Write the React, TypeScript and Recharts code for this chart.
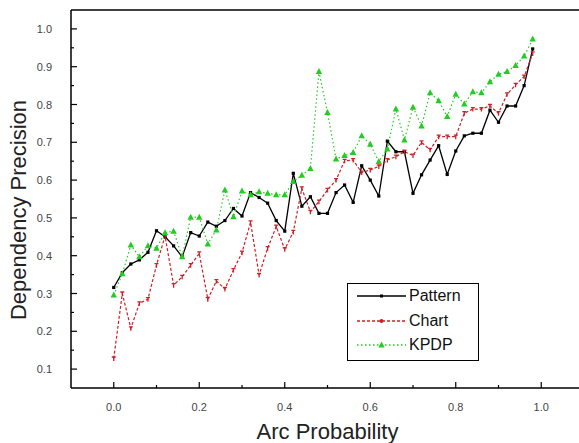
import { LineChart, Line, XAxis, YAxis, ReferenceLine, Legend, Label } from 'recharts';

// arc probability thresholds (x) and dependency precision for each method
const arcProb = [
  0.0, 0.02, 0.04, 0.06, 0.08, 0.1, 0.12, 0.14, 0.16, 0.18,
  0.2, 0.22, 0.24, 0.26, 0.28, 0.3, 0.32, 0.34, 0.36, 0.38,
  0.4, 0.42, 0.44, 0.46, 0.48, 0.5, 0.52, 0.54, 0.56, 0.58,
  0.6, 0.62, 0.64, 0.66, 0.68, 0.7, 0.72, 0.74, 0.76, 0.78,
  0.8, 0.82, 0.84, 0.86, 0.88, 0.9, 0.92, 0.94, 0.96, 0.98,
];

const patternPrec = [
  0.316, 0.355, 0.378, 0.389, 0.409, 0.466, 0.45, 0.426, 0.397, 0.461,
  0.452, 0.489, 0.478, 0.493, 0.525, 0.505, 0.567, 0.554, 0.539, 0.493,
  0.465, 0.618, 0.531, 0.556, 0.512, 0.512, 0.567, 0.587, 0.541, 0.638,
  0.6, 0.558, 0.703, 0.675, 0.675, 0.565, 0.614, 0.653, 0.691, 0.615,
  0.677, 0.717, 0.724, 0.724, 0.785, 0.753, 0.796, 0.796, 0.85, 0.947,
];

const chartPrec = [
  0.128, 0.3, 0.208, 0.274, 0.285, 0.375, 0.452, 0.322, 0.344, 0.375,
  0.406, 0.285, 0.333, 0.312, 0.362, 0.408, 0.488, 0.349, 0.42, 0.477,
  0.417, 0.463, 0.578, 0.516, 0.543, 0.574, 0.6, 0.651, 0.653, 0.62,
  0.627, 0.636, 0.653, 0.662, 0.675, 0.665, 0.7, 0.68, 0.715, 0.715,
  0.715, 0.777, 0.788, 0.788, 0.796, 0.777, 0.827, 0.852, 0.874, 0.935,
];

const kpdpPrec = [
  0.296, 0.352, 0.428, 0.397, 0.426, 0.42, 0.461, 0.465, 0.397, 0.502,
  0.502, 0.431, 0.468, 0.574, 0.503, 0.571, 0.561, 0.569, 0.565, 0.561,
  0.561, 0.596, 0.613, 0.631, 0.887, 0.779, 0.656, 0.665, 0.673, 0.717,
  0.695, 0.649, 0.682, 0.788, 0.706, 0.793, 0.743, 0.831, 0.81, 0.768,
  0.827, 0.801, 0.834, 0.831, 0.86, 0.88, 0.887, 0.903, 0.928, 0.973,
];

const seriesOrder = ['Pattern', 'Chart', 'KPDP'];

const xTicks = [0.0, 0.1, 0.2, 0.3, 0.4, 0.5, 0.6, 0.7, 0.8, 0.9, 1.0];
const xLabels = [0.0, 0.2, 0.4, 0.6, 0.8, 1.0];
const yTicks = [
  0.1, 0.15, 0.2, 0.25, 0.3, 0.35, 0.4, 0.45, 0.5, 0.55,
  0.6, 0.65, 0.7, 0.75, 0.8, 0.85, 0.9, 0.95, 1.0,
];
const yLabels = [0.1, 0.2, 0.3, 0.4, 0.5, 0.6, 0.7, 0.8, 0.9, 1.0];

const data = arcProb.map((x, i) => ({
  x,
  pattern: patternPrec[i],
  chart: chartPrec[i],
  kpdp: kpdpPrec[i],
}));

const FONT = '"Liberation Sans", Arial, sans-serif';
const RED = '#d11f26';
const GREEN = '#22cc22';

function XTick({ x, y, payload }: any) {
  const v = payload.value as number;
  const major = xLabels.some(l => Math.abs(l - v) < 1e-9);
  return (
    <g>
      <line x1={x} x2={x} y1={y} y2={y - (major ? 6 : 3)} stroke="#000" strokeWidth={1.2} />
      {major && (
        <text x={x} y={y + 23} textAnchor="middle" fontSize={11} fill="#444" fontFamily={FONT}>
          {v.toFixed(1)}
        </text>
      )}
    </g>
  );
}

function YTick({ x, y, payload }: any) {
  const v = payload.value as number;
  const major = yLabels.some(l => Math.abs(l - v) < 1e-9);
  return (
    <g>
      <line x1={x} x2={x + (major ? 6 : 3)} y1={y} y2={y} stroke="#000" strokeWidth={1.2} />
      {major && (
        <text x={x - 19} y={y + 4} textAnchor="end" fontSize={11} fill="#444" fontFamily={FONT}>
          {v.toFixed(1)}
        </text>
      )}
    </g>
  );
}

const squareDot = (p: any) => (
  <rect key={`sq-${p.index}`} x={p.cx - 1.6} y={p.cy - 1.6} width={3.2} height={3.2} fill="#000" />
);

const crossDot = (p: any) => (
  <path
    key={`cr-${p.index}`}
    d={`M${p.cx - 2},${p.cy - 1.5} H${p.cx + 2} M${p.cx},${p.cy - 1.5} V${p.cy + 2.5}`}
    stroke={RED}
    strokeWidth={1.3}
    fill="none"
  />
);

const triDot = (p: any) => (
  <path
    key={`tr-${p.index}`}
    d={`M${p.cx},${p.cy - 3.5} L${p.cx + 3.2},${p.cy + 2.5} L${p.cx - 3.2},${p.cy + 2.5} Z`}
    fill={GREEN}
  />
);

const legendStyle: Record<string, { stroke: string; dash?: string; marker: (cx: number, cy: number) => any }> = {
  Pattern: {
    stroke: '#000',
    marker: (cx, cy) => <rect x={cx - 1.5} y={cy - 1.5} width={3} height={3} fill="#000" />,
  },
  Chart: {
    stroke: RED,
    dash: '3 2',
    marker: (cx, cy) => <circle cx={cx} cy={cy} r={2} fill={RED} />,
  },
  KPDP: {
    stroke: GREEN,
    dash: '1.5 2.5',
    marker: (cx, cy) => <path d={`M${cx},${cy - 3.5} L${cx + 3.2},${cy + 2.5} L${cx - 3.2},${cy + 2.5} Z`} fill={GREEN} />,
  },
};

function LegendBox({ payload }: any) {
  const entries = [...(payload || [])].sort(
    (a: any, b: any) => seriesOrder.indexOf(a.value) - seriesOrder.indexOf(b.value),
  );
  return (
    <div style={{ width: 130, height: 76, border: '1px solid #000', background: '#fff', boxSizing: 'content-box' }}>
      {entries.map((entry: any, i: number) => {
        const s = legendStyle[entry.value];
        return (
          <div key={entry.value} style={{ position: 'absolute', left: 0, top: 4 + i * 24.5, height: 18, display: 'flex', alignItems: 'center' }}>
            <svg width={60} height={18}>
              <line x1={10} x2={59} y1={9} y2={9} stroke={s.stroke} strokeWidth={1.3} strokeDasharray={s.dash} />
              {s.marker(34.5, 9)}
            </svg>
            <span style={{ fontFamily: FONT, fontSize: 16, color: '#111', marginLeft: 2, lineHeight: '18px' }}>
              {entry.value}
            </span>
          </div>
        );
      })}
    </div>
  );
}

export default function App() {
  return (
    <div style={{ position: 'absolute', left: 0, top: 0, width: 579, height: 443, overflow: 'hidden', background: '#fff' }}>
      <LineChart width={590} height={443} data={data} margin={{ top: 10, right: 6, bottom: 0, left: 0 }}>
        <XAxis
          dataKey="x"
          type="number"
          domain={[-0.1, 1.1]}
          ticks={xTicks}
          tick={<XTick />}
          tickSize={0}
          tickMargin={0}
          tickLine={false}
          interval={0}
          height={55}
          axisLine={{ stroke: '#000', strokeWidth: 1.5 }}
        >
          <Label
            value="Arc Probability"
            position="insideBottom"
            offset={4}
            style={{ fontFamily: FONT, fontSize: 22, fill: '#222' }}
          />
        </XAxis>
        <YAxis
          type="number"
          domain={[0.05, 1.05]}
          ticks={yTicks}
          tick={<YTick />}
          tickSize={0}
          tickMargin={0}
          tickLine={false}
          interval={0}
          width={71}
          axisLine={{ stroke: '#000', strokeWidth: 1.5 }}
        >
          <Label
            value="Dependency Precision"
            position="center"
            angle={-90}
            dx={-17}
            dy={11}
            style={{ fontFamily: FONT, fontSize: 22, fill: '#222', textAnchor: 'middle' }}
          />
        </YAxis>
        <ReferenceLine y={1.05} stroke="#000" strokeWidth={1.5} />
        <Legend
          layout="vertical"
          align="center"
          verticalAlign="middle"
          content={<LegendBox />}
          wrapperStyle={{ left: 347, top: 283, width: 132, height: 78 }}
        />
        <Line
          name="Pattern"
          dataKey="pattern"
          stroke="#000"
          strokeWidth={1.3}
          dot={squareDot}
          activeDot={false}
          isAnimationActive={false}
        />
        <Line
          name="Chart"
          dataKey="chart"
          stroke={RED}
          strokeWidth={1.2}
          strokeDasharray="3 2"
          dot={crossDot}
          activeDot={false}
          isAnimationActive={false}
        />
        <Line
          name="KPDP"
          dataKey="kpdp"
          stroke={GREEN}
          strokeWidth={1.2}
          strokeDasharray="1.5 2.5"
          dot={triDot}
          activeDot={false}
          isAnimationActive={false}
        />
      </LineChart>
    </div>
  );
}
